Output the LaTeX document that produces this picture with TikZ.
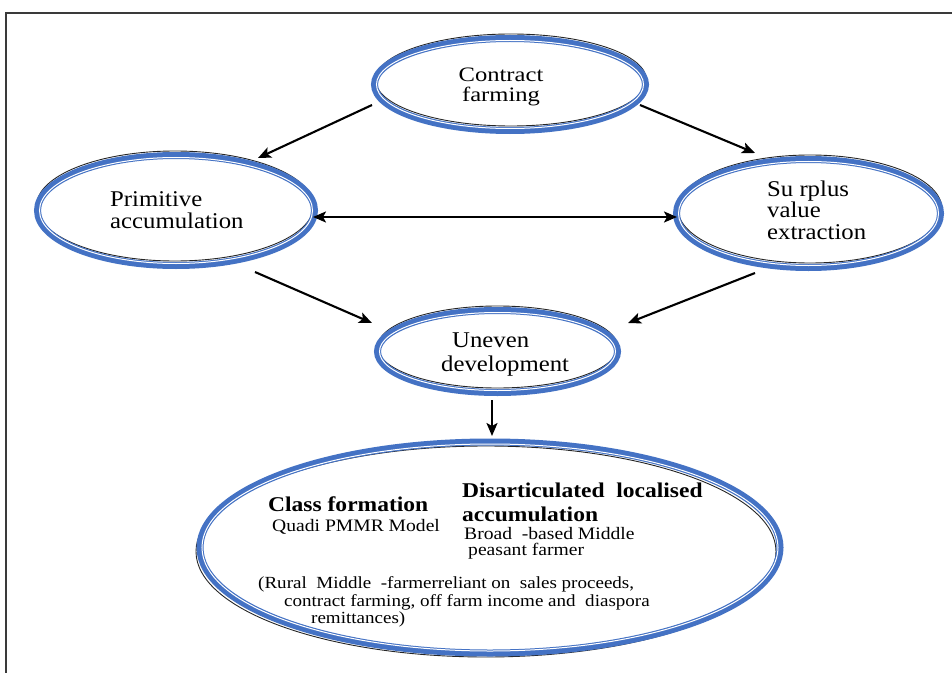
\documentclass[tikz,border=0pt]{standalone}
\usepackage{fontspec}
\setmainfont{Liberation Serif}
\newfontfamily\widefont[FakeStretch=1.12]{Liberation Serif}
\newfontfamily\labfont[FakeStretch=1.1]{Liberation Serif}
\newfontfamily\cffont[FakeStretch=1.2]{Liberation Serif}
\usetikzlibrary{arrows.meta,shapes.geometric,calc}
\definecolor{ringblue}{HTML}{4472C4}
\definecolor{framegray}{HTML}{3A3A3A}
\begin{document}
\begin{tikzpicture}[x=1bp,y=-1bp,
  ring/.style={ellipse, draw=ringblue, line width=7bp, inner sep=0pt},
  ringline/.style={ellipse, draw=white, line width=1bp, inner sep=0pt},
  shadowring/.style={ellipse, draw=black!85, line width=0.9bp, inner sep=0pt},
  arr/.style={line width=2.1bp, -{Stealth[length=13bp,width=11bp,inset=3bp]}},
  darr/.style={line width=2.1bp, {Stealth[length=13bp,width=11bp,inset=3bp]}-{Stealth[length=13bp,width=11bp,inset=3bp]}},
  lbl/.style={inner sep=0pt, font=\labfont\fontsize{22.5bp}{20bp}\selectfont},
  clbl/.style={inner sep=0pt, font=\cffont\fontsize{20.5bp}{17bp}\selectfont},
  bhead/.style={inner sep=0pt, anchor=base west, font=\widefont\bfseries\fontsize{21bp}{20bp}\selectfont},
  bsub/.style={inner sep=0pt, anchor=base west, font=\widefont\fontsize{17.5bp}{16bp}\selectfont},
  bnote/.style={inner sep=0pt, anchor=base west, font=\widefont\fontsize{17bp}{16bp}\selectfont}
]
\useasboundingbox (0,0) rectangle (952,673);
\fill[white] (0,0) rectangle (952,673);
% frame
\draw[framegray, line width=1.5bp] (6,673) -- (6,13) -- (952,13);

% shadows
\node[shadowring, minimum width=271bp, minimum height=92bp] (cfs) at (511,80) {};
\node[shadowring, minimum width=277bp, minimum height=110bp] (pas) at (175,206) {};
\node[shadowring, minimum width=264bp, minimum height=108bp] (svs) at (810,209) {};
\node[shadowring, minimum width=240bp, minimum height=82bp] (ues) at (497.5,347) {};
\node[shadowring, minimum width=580bp, minimum height=211bp] (bts) at (486,551.5) {};

% rings
\node[ring, minimum width=271bp, minimum height=92bp] (cf) at (510,84.5) {};
\node[ring, minimum width=277bp, minimum height=110bp] (pa) at (176,210.5) {};
\node[ring, minimum width=264bp, minimum height=108bp] (sv) at (808.5,213.5) {};
\node[ring, minimum width=240bp, minimum height=82bp] (ue) at (497.5,351.5) {};
\node[ring, minimum width=580bp, minimum height=211bp] (bt) at (490,547.5) {};

% inner white lines of the rings
\node[ringline, minimum width=267bp, minimum height=88bp] (cfw) at (cf.center) {};
\node[ringline, minimum width=273bp, minimum height=106bp] (paw) at (pa.center) {};
\node[ringline, minimum width=260bp, minimum height=104bp] (svw) at (sv.center) {};
\node[ringline, minimum width=236bp, minimum height=78bp] (uew) at (ue.center) {};
\node[ringline, minimum width=576bp, minimum height=207bp] (btw) at (bt.center) {};

% connectors
\draw[arr] ($(cf.center)+(-138,20.5)$) -- ($(pa.center)+(82,-52.5)$);
\draw[arr] ($(cf.center)+(130,20.5)$) -- ($(sv.center)+(-53.5,-60.5)$);
\draw[darr] ($(pa.center)+(137,6.5)$) -- ($(sv.center)+(-131.5,3.5)$);
\draw[arr] ($(pa.center)+(79,61.5)$) -- ($(ue.center)+(-125.5,-28.5)$);
\draw[arr] ($(sv.center)+(-53.5,59.5)$) -- ($(ue.center)+(130.5,-28.5)$);
\draw[arr] ($(ue.center)+(-5.5,48.5)$) -- ($(bt.center)+(2,-111.5)$);

% labels
\node[clbl, anchor=base] (cf1) at (501,82) {Contract};
\node[clbl, anchor=base] (cf2) at (501,102) {farming};

\node[lbl, anchor=base west] (pa1) at (110,206) {Primitive};
\node[lbl, anchor=base west] (pa2) at (110,228) {accumulation};

\node[lbl, anchor=base west] (sv1) at (767,196) {Su rplus};
\node[lbl, anchor=base west] (sv2) at (767,217) {value};
\node[lbl, anchor=base west] (sv3) at (767,239) {extraction};

\node[lbl, anchor=base west] (ue1) at (452,347) {Uneven};
\node[lbl, anchor=base west] (ue2) at (441,371) {development};

\node[bhead] (b1) at (268,511) {Class formation};
\node[bsub] (b2) at (272,531) {Quadi PMMR Model};
\node[bhead] (b3) at (462,497) {Disarticulated~ localised};
\node[bhead] (b4) at (462,521) {accumulation};
\node[bsub] (b5) at (464,539) {Broad~ -based Middle};
\node[bsub] (b6) at (468,555) {peasant farmer};
\node[bnote] (b7) at (258,588) {(Rural~ Middle~ -farmerreliant on~ sales proceeds,};
\node[bnote] (b8) at (284,606) {contract farming, off farm income and~ diaspora};
\node[bnote] (b9) at (311,623) {remittances)};
\end{tikzpicture}
\end{document}
